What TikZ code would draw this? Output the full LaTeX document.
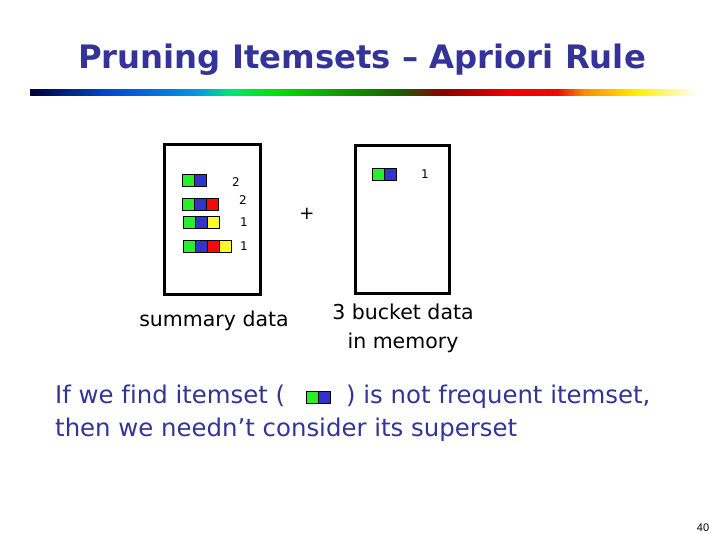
\documentclass[tikz,border=0pt]{standalone}
\usepackage{fontspec}
\setmainfont[Ligatures=NoCommon]{DejaVu Sans}
\newfontfamily\arialfont{Liberation Sans}
\definecolor{titleblue}{RGB}{51,51,153}
\definecolor{sqgreen}{RGB}{40,240,40}
\definecolor{sqblue}{RGB}{51,51,204}
\definecolor{sqred}{RGB}{245,10,10}
\definecolor{sqyellow}{RGB}{255,250,40}
\definecolor{rb0}{RGB}{0,0,50}
\definecolor{rb1}{RGB}{0,70,210}
\definecolor{rb2}{RGB}{0,150,230}
\definecolor{rb3}{RGB}{0,230,120}
\definecolor{rb4}{RGB}{0,225,0}
\definecolor{rb5}{RGB}{30,90,0}
\definecolor{rb6}{RGB}{140,0,0}
\definecolor{rb7}{RGB}{240,0,0}
\definecolor{rb8}{RGB}{240,10,0}
\definecolor{rb9}{RGB}{250,140,0}
\definecolor{rb10}{RGB}{255,240,0}
\pgfdeclarehorizontalshading{rainbowbar}{100bp}{color(0bp)=(rb0); color(25bp)=(rb0); color(30.7bp)=(rb1); color(37.5bp)=(rb2); color(40bp)=(rb3); color(43.5bp)=(rb4); color(52.8bp)=(rb5); color(56bp)=(rb6); color(61bp)=(rb7); color(64.5bp)=(rb8); color(66.5bp)=(rb9); color(70.5bp)=(rb10); color(75bp)=(white); color(100bp)=(white)}
\begin{document}
\begin{tikzpicture}[x=1pt,y=-1pt,
  sq/.style={draw=black, line width=0.8pt, minimum size=12pt, inner sep=0pt, outer sep=0pt, anchor=north west},
  g/.style={sq, fill=sqgreen},
  b/.style={sq, fill=sqblue},
  r/.style={sq, fill=sqred},
  yel/.style={sq, fill=sqyellow},
  bucket/.style={draw=black, line width=3pt, inner sep=0pt},
  cnt/.style={font=\fontsize{12}{14}\selectfont, inner sep=0pt},
  lbl/.style={font=\fontsize{20.5}{24}\selectfont, inner sep=0pt, anchor=base},
  body/.style={font=\fontsize{24.4}{29}\selectfont, text=titleblue, inner sep=0pt, anchor=base west}]
\useasboundingbox (0,0) rectangle (720,540);
\node[font=\bfseries\fontsize{32.3}{36}\selectfont, text=titleblue, inner sep=0pt, anchor=base] (title) at (362,69) {Pruning Itemsets – Apriori Rule};
\fill[shading=rainbowbar] (30,90) rectangle (697,96);
% boxes
\node[bucket, minimum width=96pt, minimum height=150pt] (sumbox) at (212.5,219.5) {};
\node[bucket, minimum width=94pt, minimum height=148pt] (membox) at (402.5,219.5) {};
% summary rows
\node[g] (a1) at (182,174) {}; \node[b] at (a1.north east) {};
\node[g] (b1) at (182,198) {}; \node[b] (b2) at (b1.north east) {}; \node[r] at (b2.north east) {};
\node[g] (c1) at (183,216) {}; \node[b] (c2) at (c1.north east) {}; \node[yel] at (c2.north east) {};
\node[g] (d1) at (183,240) {}; \node[b] (d2) at (d1.north east) {}; \node[r] (d3) at (d2.north east) {}; \node[yel] at (d3.north east) {};
\node[cnt] (n1) at (236,182) {2};
\node[cnt] (n2) at (243,200) {2};
\node[cnt] (n3) at (244,222) {1};
\node[cnt] (n4) at (244,246) {1};
% memory
\node[g] (m1) at (372,168) {}; \node[b] at (m1.north east) {};
\node[cnt] (mn) at (425,174) {1};
\node[font=\fontsize{18}{20}\selectfont, inner sep=0pt] (plus) at (307,214) {+};
\node[lbl] (sumlbl) at (214,326.5) {summary data};
\node[lbl] (memlbl1) at (403,319) {3 bucket data};
\node[lbl] (memlbl2) at (403,348) {in memory};
% bottom text
\node[body] (t1) at (55,403) {If we find itemset (};
\node[g] (i1) at (306,391) {}; \node[b] at (i1.north east) {};
\node[body] (t2) at (346,403) {) is not frequent itemset,};
\node[body] (t3) at (55,436) {then we needn’t consider its superset};
\node[font=\arialfont\fontsize{11}{13}\selectfont, inner sep=0pt] (page) at (703,528) {40};
\end{tikzpicture}
\end{document}
